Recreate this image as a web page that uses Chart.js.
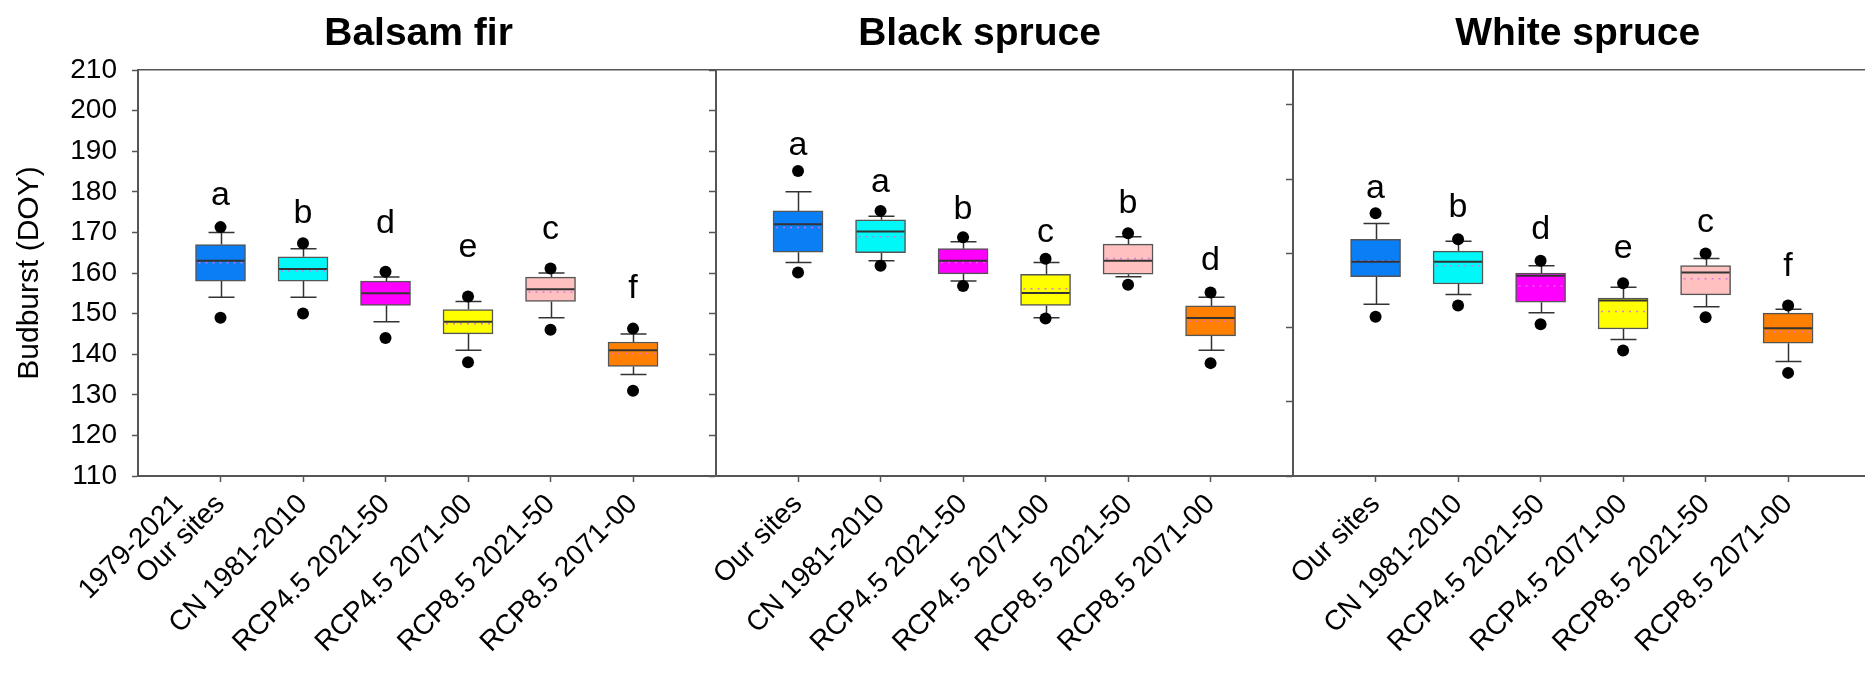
<!DOCTYPE html>
<html lang="en">
<head>
<meta charset="UTF-8">
<title>Budburst (DOY) by species and period</title>
<script src="https://cdn.jsdelivr.net/npm/chart.js"></script>
<style>
    * { margin: 0; padding: 0; box-sizing: border-box; }
    body { background: #fff; width: 1870px; height: 678px; overflow: hidden; }
    #budburst { display: block; }
</style>
</head>
<body>
<canvas id="budburst" width="1870" height="678"></canvas>
<script>
// ---- data (DOY) ----
const species = ['Balsam fir', 'Black spruce', 'White spruce'];
const categories = ['Our sites', 'CN 1981-2010', 'RCP4.5 2021-50', 'RCP4.5 2071-00', 'RCP8.5 2021-50', 'RCP8.5 2071-00'];
const firstLabelExtra = '1979-2021';
const yMin = 110, yMax = 210, yStep = 10;

const lowOutlier = [
    [149, 150, 144, 138, 146, 131],
    [160.1, 161.8, 156.8, 148.8, 157.1, 137.8],
    [149.2, 152, 147.4, 140.9, 149.1, 135.4]
];
const lowWhisker = [
    [154, 154, 148, 141, 149, 135],
    [162.6, 163, 158, 149, 159.1, 141],
    [152.3, 154.7, 150.2, 143.6, 151.7, 138.2]
];
const q1 = [
    [158, 158, 152, 145, 153, 137],
    [165.1, 165, 159.8, 152, 159.7, 144.5],
    [159.1, 157.3, 152.8, 146.2, 154.6, 142.7]
];
const median = [
    [163, 161, 155, 148, 156, 141],
    [172, 170.2, 163, 155.1, 163, 148.9],
    [162.8, 162.8, 159.3, 153.2, 160.1, 146.4]
];
const mean = [
    [162.5, 160.5, 155, 147.5, 155.3, 140.2],
    [171.2, 168.9, 162.6, 156.1, 163.6, 148.1],
    [163, 161.8, 156.8, 150.5, 158.6, 145.5]
];
const q3 = [
    [167, 164, 158, 151, 159, 143],
    [175.3, 173.1, 166, 159.7, 167.1, 151.9],
    [168.3, 165.4, 160, 153.8, 161.8, 150.1]
];
const highWhisker = [
    [170, 166, 159, 153, 160, 145],
    [180, 174, 167.7, 162.6, 168.9, 154],
    [172.2, 167.8, 161.8, 156.5, 163.6, 151.1]
];
const highOutlier = [
    [171.3, 167.3, 160.3, 154.2, 161.1, 146.3],
    [185.1, 175.3, 168.8, 163.5, 169.8, 155.2],
    [174.7, 168.3, 163, 157.5, 164.8, 152]
];
const letters = [
    ['a', 'b', 'd', 'e', 'c', 'f'],
    ['a', 'a', 'b', 'c', 'b', 'd'],
    ['a', 'b', 'd', 'e', 'c', 'f']
];
// letter baselines, in DOY
const letterAt = [
    [176.7, 172.2, 169.8, 164, 168.3, 153.8],
    [189.1, 180, 173.2, 167.7, 174.7, 160.7],
    [178.4, 173.9, 168.3, 163.6, 170.2, 159.3]
];
const titleAt = [3.4, 10.2, 17.45];

// ---- styling ----
const boxColors = ['#0a7ff5', '#00f8f8', '#ff00ff', '#ffff00', '#ffc0c0', '#ff8000'];
const frameColor = '#555';
const fontFamily = "'Liberation Sans', Arial, sans-serif";
const slotsPerPanel = 7;
const xMax = 20.92;

Chart.defaults.font.family = fontFamily;
Chart.defaults.color = '#000';

function slotX(p, i) { return p * slotsPerPanel + i + 1; }

const boxData = [];
const boxFill = [];
const outlierData = [];
species.forEach(function (s, p) {
    categories.forEach(function (c, i) {
        boxData.push({ x: slotX(p, i), y: [q1[p][i], q3[p][i]] });
        boxFill.push(boxColors[i]);
        outlierData.push({ x: slotX(p, i), y: lowOutlier[p][i] });
        outlierData.push({ x: slotX(p, i), y: highOutlier[p][i] });
    });
});

// whiskers under the boxes, medians/means on top, then letters and titles
const boxParts = {
    id: 'boxParts',
    beforeDatasetsDraw(chart) {
        const { ctx, scales: { x, y } } = chart;
        ctx.save();
        ctx.strokeStyle = '#333';
        ctx.lineWidth = 1.5;
        species.forEach(function (s, p) {
            categories.forEach(function (c, i) {
                const cx = Math.round(x.getPixelForValue(slotX(p, i))) + 0.5;
                const cap = 13;
                const yLo = y.getPixelForValue(lowWhisker[p][i]);
                const yHi = y.getPixelForValue(highWhisker[p][i]);
                ctx.beginPath();
                ctx.moveTo(cx, y.getPixelForValue(q3[p][i]));
                ctx.lineTo(cx, yHi);
                ctx.moveTo(cx, y.getPixelForValue(q1[p][i]));
                ctx.lineTo(cx, yLo);
                ctx.moveTo(cx - cap, yHi);
                ctx.lineTo(cx + cap, yHi);
                ctx.moveTo(cx - cap, yLo);
                ctx.lineTo(cx + cap, yLo);
                ctx.stroke();
            });
        });
        ctx.restore();
    },
    afterDatasetDraw(chart, args) {
        if (args.index !== 0) return;
        const { ctx, scales: { y } } = chart;
        const bars = chart.getDatasetMeta(0).data;
        ctx.save();
        species.forEach(function (s, p) {
            categories.forEach(function (c, i) {
                const bar = bars[p * categories.length + i];
                const left = bar.x - bar.width / 2 + 1;
                const right = bar.x + bar.width / 2 - 1;
                // mean: dotted
                ctx.setLineDash([2, 5]);
                ctx.strokeStyle = 'rgba(220,110,230,0.9)';
                ctx.lineWidth = 1.5;
                ctx.beginPath();
                ctx.moveTo(left + 2, y.getPixelForValue(mean[p][i]));
                ctx.lineTo(right, y.getPixelForValue(mean[p][i]));
                ctx.stroke();
                // median: solid
                ctx.setLineDash([]);
                ctx.strokeStyle = '#333';
                ctx.lineWidth = 2;
                ctx.beginPath();
                ctx.moveTo(left, y.getPixelForValue(median[p][i]));
                ctx.lineTo(right, y.getPixelForValue(median[p][i]));
                ctx.stroke();
            });
        });
        ctx.restore();
    },
    afterDraw(chart) {
        const { ctx, scales: { x, y } } = chart;
        ctx.save();
        ctx.fillStyle = '#000';
        ctx.textAlign = 'center';
        ctx.textBaseline = 'alphabetic';
        ctx.font = '34px ' + fontFamily;
        species.forEach(function (s, p) {
            categories.forEach(function (c, i) {
                ctx.fillText(letters[p][i], x.getPixelForValue(slotX(p, i)), y.getPixelForValue(letterAt[p][i]));
            });
        });
        ctx.font = 'bold 39px ' + fontFamily;
        species.forEach(function (s, p) {
            ctx.fillText(s, x.getPixelForValue(titleAt[p]), 45);
        });
        // second label line under "Our sites" of the first panel
        const tickFont = 28, lh = tickFont * 1.2;
        const rot = -Math.PI / 4;
        const px = x.getPixelForValue(slotX(0, 0)) + (lh / 2) * Math.sin(rot) - 42;
        const py = x.top + 6 + 6;
        ctx.translate(px, py);
        ctx.rotate(rot);
        ctx.font = tickFont + 'px ' + fontFamily;
        ctx.textAlign = 'right';
        ctx.textBaseline = 'middle';
        ctx.fillText(firstLabelExtra, 0, lh / 2);
        ctx.restore();
    }
};

new Chart(document.getElementById('budburst'), {
    type: 'bar',
    data: {
        datasets: [{
            type: 'bar',
            data: boxData,
            backgroundColor: boxFill,
            borderColor: frameColor,
            borderWidth: 1.5,
            borderSkipped: false,
            barThickness: 50,
            order: 2
        }, {
            type: 'scatter',
            data: outlierData,
            pointRadius: 6,
            pointBackgroundColor: '#000',
            pointBorderWidth: 0,
            order: 1
        }]
    },
    options: {
        responsive: false,
        animation: false,
        devicePixelRatio: 1,
        layout: { padding: { top: 70, left: 0, right: 0, bottom: 0 } },
        plugins: { legend: { display: false }, tooltip: { enabled: false } },
        scales: {
            x: {
                type: 'linear',
                position: 'bottom',
                offset: false,
                min: 0,
                max: xMax,
                afterFit(axis) { axis.height = 202; },
                ticks: {
                    stepSize: 1,
                    includeBounds: false,
                    autoSkip: false,
                    minRotation: 45,
                    maxRotation: 45,
                    padding: 6,
                    font: { size: 28 },
                    color: '#000',
                    callback(value) {
                        const k = Math.round(value) % slotsPerPanel;
                        return k === 0 ? '' : categories[k - 1];
                    }
                },
                grid: {
                    offset: false,
                    drawOnChartArea: false,
                    tickLength: 6,
                    tickWidth: 1.5,
                    tickColor(ctx) {
                        return ctx.tick && Math.round(ctx.tick.value) % slotsPerPanel === 0 ? 'rgba(0,0,0,0)' : frameColor;
                    }
                },
                border: { color: frameColor, width: 2 }
            },
            xTop: {
                type: 'linear',
                position: 'top',
                offset: false,
                min: 0,
                max: xMax,
                ticks: { display: false },
                grid: { display: false, drawTicks: false, tickLength: 0 },
                border: { display: true, color: frameColor, width: 1.5 }
            },
            y: {
                position: 'left',
                min: yMin,
                max: yMax,
                afterFit(axis) { axis.width = 138; },
                ticks: { stepSize: yStep, padding: 15, font: { size: 28 }, color: '#000' },
                grid: { drawOnChartArea: false, tickLength: 6, tickWidth: 1.5, tickColor: frameColor },
                border: { color: frameColor, width: 2 },
                title: {
                    display: true,
                    text: 'Budburst (DOY)',
                    font: { size: 30 },
                    color: '#000',
                    padding: { top: 12, bottom: 0 }
                }
            },
            yPanel1Right: {
                position: { x: slotsPerPanel },
                min: yMin,
                max: yMax,
                ticks: { display: false, stepSize: yStep },
                grid: { drawOnChartArea: false, tickLength: 6, tickWidth: 1.5, tickColor: frameColor },
                border: { color: frameColor, width: 2 }
            },
            yPanel2Right: {
                position: { x: 2 * slotsPerPanel },
                min: 0,
                max: 54.7,
                ticks: { display: false, stepSize: 10, includeBounds: false },
                grid: { drawOnChartArea: false, tickLength: 6, tickWidth: 1.5, tickColor: frameColor },
                border: { color: frameColor, width: 2 }
            }
        }
    },
    plugins: [boxParts]
});
</script>
</body>
</html>
